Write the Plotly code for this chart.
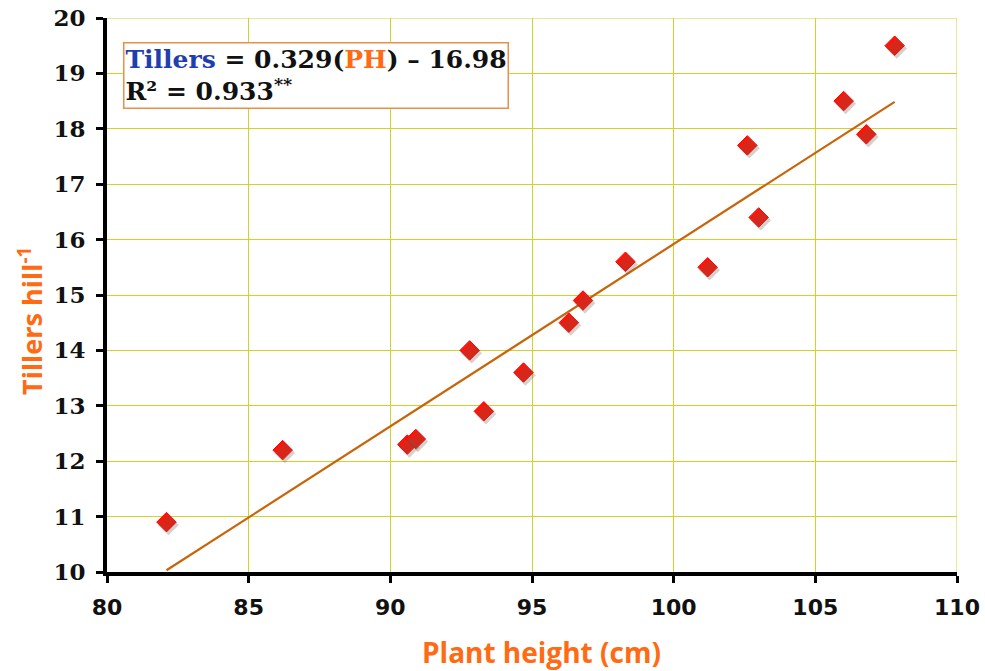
import plotly.graph_objects as go

# Data
plant_height = [82.1, 86.2, 90.6, 90.9, 92.8, 93.3, 94.7, 96.3, 96.8, 98.3,
                101.2, 102.6, 103.0, 106.0, 106.8, 107.8]
tillers = [10.9, 12.2, 12.3, 12.4, 14.0, 12.9, 13.6, 14.5, 14.9, 15.6,
           15.5, 17.7, 16.4, 18.5, 17.9, 19.5]
slope = 0.329
intercept = -16.98
x_ticks = [80, 85, 90, 95, 100, 105, 110]
y_ticks = [10, 11, 12, 13, 14, 15, 16, 17, 18, 19, 20]

fit_x = [min(plant_height), max(plant_height)]
fit_y = [slope * v + intercept for v in fit_x]

GRID = "#D2D22A"
ORANGE = "#FF6A13"

W, H = 985, 671
L, R, T, B = 107, 28, 18, 99
PW, PH_ = W - L - R, H - T - B

fig = go.Figure()
fig.add_trace(go.Scatter(
    x=fit_x, y=fit_y, mode="lines",
    line=dict(color="#C8650A", width=2.2),
    hoverinfo="skip", showlegend=False))
# soft shadow for markers
fig.add_trace(go.Scatter(
    x=plant_height, y=tillers, mode="markers",
    marker=dict(symbol="diamond", size=16, color="rgba(110,90,80,0.28)",
                line=dict(width=0)),
    xaxis="x2", yaxis="y2", hoverinfo="skip", showlegend=False))
fig.add_trace(go.Scatter(
    x=plant_height, y=tillers, mode="markers",
    marker=dict(symbol="diamond", size=15, color="#FF1408",
                line=dict(color="#FF0000", width=1)),
    showlegend=False))

tick_font_x = dict(family="DejaVu Sans", size=22, color="#111111")
tick_font_y = dict(family="DejaVu Serif", size=23, color="#111111")

fig.update_layout(
    width=W, height=H,
    margin=dict(l=L, r=R, t=T, b=B),
    paper_bgcolor="white", plot_bgcolor="white",
    xaxis=dict(range=[80, 110], tickvals=x_ticks,
               ticktext=[f"<b>{v}</b>" for v in x_ticks],
               tickfont=tick_font_x, showgrid=True, gridcolor=GRID,
               gridwidth=1, showline=True, linecolor="black", linewidth=4,
               ticks="outside", ticklen=7, tickwidth=3, tickcolor="black",
               zeroline=False, automargin=False, ticklabeloverflow="allow",
               ticklabelstandoff=6),
    yaxis=dict(range=[10, 20], tickvals=y_ticks,
               ticktext=[f"<b>{v}</b>" for v in y_ticks],
               tickfont=tick_font_y, showgrid=True, gridcolor=GRID,
               gridwidth=1, showline=True, linecolor="black", linewidth=4,
               ticks="outside", ticklen=7, tickwidth=3, tickcolor="black",
               zeroline=False, automargin=False, ticklabeloverflow="allow",
               ticklabelstandoff=6),
    xaxis2=dict(range=[80 - 0.07, 110 - 0.07], overlaying="x", visible=False),
    yaxis2=dict(range=[10 + 0.05, 20 + 0.05], overlaying="y", visible=False),
)

fig.add_shape(type="line", xref="x", yref="y", x0=110, x1=110, y0=10, y1=20,
              line=dict(color=GRID, width=1))
fig.add_shape(type="line", xref="x", yref="y", x0=80, x1=110, y0=20, y1=20,
              line=dict(color=GRID, width=1))


def px_x(wx):
    return (wx - L) / PW


def px_y(wy):
    return 1 - (wy - T) / PH_


fig.add_annotation(
    xref="paper", yref="paper", x=px_x(541), y=px_y(652),
    xanchor="center", yanchor="middle", showarrow=False,
    text="<b>Plant height (cm)</b>",
    font=dict(family="Open Sans", size=28, color=ORANGE, weight=800))
fig.add_annotation(
    xref="paper", yref="paper", x=px_x(30), y=px_y(321),
    xanchor="center", yanchor="middle", showarrow=False, textangle=-90,
    text="<b>Tillers hill<sup>-1</sup></b>",
    font=dict(family="Open Sans", size=27, color=ORANGE, weight=800))

fig.add_annotation(
    xref="paper", yref="paper", x=px_x(123), y=px_y(42),
    xanchor="left", yanchor="top", align="left", showarrow=False,
    text=("<b><span style='color:#1F3FB0'>Tillers</span> = 0.329(<span style='color:#FF6A13'>PH</span>) – 16.98</b>"
          "<br><b>R² = 0.933<sup>**</sup></b>"),
    font=dict(family="DejaVu Serif", size=25, color="#111111"),
    bordercolor="#E8904A", borderwidth=1.5, borderpad=1, bgcolor="white",
)

fig.write_html(
    "out.html",
    config={"displayModeBar": False},
    post_script="document.body.style.margin='0';document.body.style.overflow='hidden';")
